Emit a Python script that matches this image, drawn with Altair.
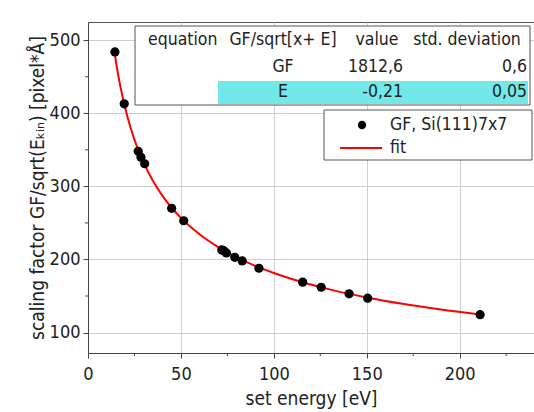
import altair as alt
import pandas as pd

# ---- data ----
energy = [14.5, 19.5, 27, 28.5, 30.5, 45, 51.5, 72, 73, 74.5, 79, 83, 92, 115.5, 125.5, 140.5, 150.5, 211]
gf_val = [484, 413, 348, 340, 331, 270, 253, 213, 212, 209, 203, 198, 188, 169, 162, 153, 147, 124.5]

fit_x = [14.5, 16, 18, 20, 23, 26, 30, 35, 40, 45, 50, 60, 70, 80, 90, 100, 115, 130, 150, 170, 190, 210]
fit_y = [479.5, 456.1, 429.7, 407.4, 379.7, 356.9, 332.1, 307.3, 287.4, 270.8, 256.9, 234.4, 217.0,
         202.9, 191.3, 181.5, 169.2, 159.1, 148.1, 139.1, 131.6, 125.1]

x_ticks = [0, 50, 100, 150, 200]
x_minor = [25, 75, 125, 175, 225]
y_ticks = [100, 200, 300, 400, 500]
y_minor = [150, 250, 350, 450]

tbl_header = ["equation", "GF/sqrt[x+ E]", "value", "std. deviation"]
tbl_row1 = ["", "GF", "1812,6", "0,6"]
tbl_row2 = ["", "E", "-0,21", "0,05"]
legend_labels = ["GF, Si(111)7x7", "fit"]

# ---- layout ----
W, H = 446, 331
FONT = "DejaVu Sans Condensed, DejaVu Sans"
TXT = "#222222"

xs = alt.Scale(domain=[0, 240], nice=False, zero=False)
ys = alt.Scale(domain=[72, 525], nice=False, zero=False)

pts_df = pd.DataFrame({"x": energy, "y": gf_val})
fit_df = pd.DataFrame({"x": fit_x, "y": fit_y})

base_axis_x = alt.Axis(values=x_ticks, grid=True, title="set energy [eV]", labelFontSize=18,
                       titleFontSize=19, tickSize=5, labelPadding=7, titlePadding=6,
                       labelFont=FONT, titleFont=FONT, labelColor=TXT, titleColor=TXT,
                       titleFontWeight="normal", domainColor="#444", tickColor="#444",
                       gridColor="#cfcfcf", labelFlush=False)
base_axis_y = alt.Axis(values=y_ticks, grid=True,
                       title="scaling factor GF/sqrt(Eₖᵢₙ) [pixel*Å]",
                       labelFontSize=18, titleFontSize=19, tickSize=5, labelPadding=3,
                       titlePadding=2, labelFont=FONT, titleFont=FONT, labelColor=TXT,
                       titleColor=TXT, titleFontWeight="normal", domainColor="#444",
                       tickColor="#444", gridColor="#cfcfcf")

fit_line = alt.Chart(fit_df).mark_line(color="#ff0000", strokeWidth=2, interpolate="monotone").encode(
    x=alt.X("x:Q", scale=xs, axis=base_axis_x),
    y=alt.Y("y:Q", scale=ys, axis=base_axis_y),
)
points = alt.Chart(pts_df).mark_circle(color="black", size=85, opacity=1).encode(
    x=alt.X("x:Q", scale=xs), y=alt.Y("y:Q", scale=ys)
)

minor_x = alt.Chart(pd.DataFrame({"x": x_minor})).mark_rule(color="#444", clip=False).encode(
    x=alt.X("x:Q", scale=xs), y=alt.value(H), y2=alt.value(H + 3)
)
minor_y = alt.Chart(pd.DataFrame({"y": y_minor})).mark_rule(color="#444", clip=False).encode(
    y=alt.Y("y:Q", scale=ys), x=alt.value(-3), x2=alt.value(0)
)

one = pd.DataFrame({"a": [0]})
# table box
tbl_box = alt.Chart(one).mark_rect(fill="white", stroke="#555", strokeWidth=1).encode(
    x=alt.value(47), x2=alt.value(442), y=alt.value(4), y2=alt.value(83)
)
tbl_cyan = alt.Chart(one).mark_rect(fill="#72e8e8").encode(
    x=alt.value(130), x2=alt.value(440), y=alt.value(59), y2=alt.value(82)
)
row_y = [18, 45, 70]
rows = [tbl_header, tbl_row1, tbl_row2]
cells = []
for r, (cells_txt, yy) in enumerate(zip(rows, row_y)):
    for c, t in enumerate(cells_txt):
        if not t:
            continue
        if r == 0:
            pos = [60, 195, 289, 379][c]
            al = ["left", "center", "center", "center"][c]
        else:
            pos = [60, 195, 315, 439][c]
            al = ["left", "center", "right", "right"][c]
        cells.append({"t": t, "px": pos, "py": yy, "al": al})
cell_df = pd.DataFrame(cells)
tbl_text = []
for al in ["left", "center", "right"]:
    tbl_text.append(
        alt.Chart(cell_df[cell_df.al == al]).mark_text(align=al, baseline="middle", fontSize=17.5,
                                                        font=FONT, color=TXT).encode(
            x=alt.X("px:Q", scale=None), y=alt.Y("py:Q", scale=None), text="t:N")
    )

# legend
leg_box = alt.Chart(one).mark_rect(fill="white", stroke="#555", strokeWidth=1).encode(
    x=alt.value(236), x2=alt.value(444), y=alt.value(88), y2=alt.value(138)
)
leg_dot = alt.Chart(one).mark_circle(color="black", size=70, opacity=1).encode(
    x=alt.value(274), y=alt.value(103)
)
leg_line = alt.Chart(one).mark_rule(color="#ff0000", strokeWidth=2).encode(
    x=alt.value(252), x2=alt.value(294), y=alt.value(126)
)
leg_df = pd.DataFrame({"t": legend_labels, "py": [103, 126]})
leg_text = alt.Chart(leg_df).mark_text(align="left", baseline="middle", fontSize=17.5, font=FONT,
                                       color=TXT).encode(
    x=alt.value(302), y=alt.Y("py:Q", scale=None), text="t:N"
)

chart = alt.layer(
    fit_line, points, minor_x, minor_y, tbl_box, tbl_cyan, *tbl_text,
    leg_box, leg_dot, leg_line, leg_text
).properties(
    width=W, height=H,
    autosize=alt.AutoSizeParams(type="none"),
    padding={"left": 88, "top": 22, "right": 0, "bottom": 59},
    background="white",
).configure_view(stroke="#555", strokeWidth=1)

chart.save("out.html", embed_options={"renderer": "svg", "actions": False})
